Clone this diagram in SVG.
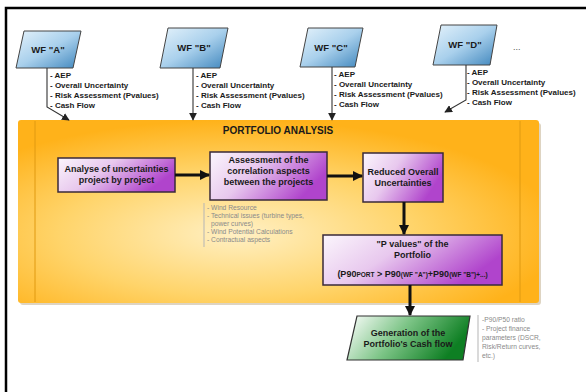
<svg xmlns="http://www.w3.org/2000/svg" width="586" height="392" viewBox="0 0 586 392">
<defs>
<radialGradient id="gOrange" cx="0.42" cy="0.62" r="0.62" fx="0.42" fy="0.62">
<stop offset="0" stop-color="#fff0c4"/>
<stop offset="0.55" stop-color="#ffd46a"/>
<stop offset="1" stop-color="#ffb21a"/>
</radialGradient>
<linearGradient id="gPurple" x1="0" y1="0" x2="1" y2="0.4">
<stop offset="0" stop-color="#fbf6fc"/>
<stop offset="0.45" stop-color="#e8c8ee"/>
<stop offset="1" stop-color="#b044cc"/>
</linearGradient>
<linearGradient id="gBlue" x1="0" y1="0" x2="1" y2="1">
<stop offset="0" stop-color="#e4f2fb"/>
<stop offset="0.5" stop-color="#a9d0ec"/>
<stop offset="1" stop-color="#3f86bd"/>
</linearGradient>
<linearGradient id="gGreen" x1="0" y1="0" x2="1" y2="0.3">
<stop offset="0" stop-color="#ffffff"/>
<stop offset="0.5" stop-color="#7cc486"/>
<stop offset="1" stop-color="#0e7f23"/>
</linearGradient>
<marker id="mThick" viewBox="0 0 10 10" refX="9" refY="5" markerWidth="3.4" markerHeight="3.4" orient="auto" markerUnits="strokeWidth">
<path d="M0,0 L10,5 L0,10 z" fill="#111"/>
</marker>
<marker id="mThin" viewBox="0 0 10 10" refX="9" refY="5" markerWidth="7" markerHeight="7" orient="auto" markerUnits="strokeWidth">
<path d="M0,0 L10,5 L0,10 z" fill="#222"/>
</marker>
</defs>
<style>
.wf{fill:url(#gBlue);stroke:#444;stroke-width:1}
.pb{fill:url(#gPurple);stroke:#3a2a3a;stroke-width:1.5}
.t{font-family:"Liberation Sans",Arial,sans-serif;font-weight:bold;fill:#1a1a1a}
.wft{font-size:9.5px;text-anchor:middle}
.lst{font-size:8px}
.bt{font-size:9px;text-anchor:middle}
.n{font-family:"Liberation Sans",Arial,sans-serif;font-size:6.7px;fill:#8a8a8a}
.thick{stroke:#111;stroke-width:3;fill:none}
.thin{stroke:#333;stroke-width:1.1;fill:none}
.gl{stroke:#b5b5b5;stroke-width:1}
</style>
<rect x="0" y="0" width="586" height="392" fill="#ffffff"/>
<path d="M6,392 L6,8 L586,8" fill="none" stroke="#000" stroke-width="2.5"/>

<g id="portfolio">
<rect x="20" y="123" width="521" height="182" rx="3" fill="#c8b89a" opacity="0.6"/>
<rect x="18" y="120" width="521" height="183" rx="3" fill="url(#gOrange)"/>
<line x1="35" y1="121" x2="35" y2="302" stroke="#e09a10" stroke-width="1"/>
<line x1="520" y1="121" x2="520" y2="302" stroke="#e09a10" stroke-width="1"/>
<text class="t" x="278" y="134" font-size="10" text-anchor="middle">PORTFOLIO ANALYSIS</text>
</g>

<g id="wfA">
<polygon class="wf" points="24,31 81,31 73,68 16,68"/>
<text class="t wft" x="48" y="53">WF "A"</text>
<text class="t lst" x="50" y="78">- AEP</text>
<text class="t lst" x="50" y="88">- Overall Uncertainty</text>
<text class="t lst" x="50" y="98">- Risk Assessment (Pvalues)</text>
<text class="t lst" x="50" y="108">- Cash Flow</text>
</g>
<g id="wfB">
<polygon class="wf" points="168,28 228,28 220,68 160,68"/>
<text class="t wft" x="194" y="51">WF "B"</text>
<text class="t lst" x="196" y="78">- AEP</text>
<text class="t lst" x="196" y="88">- Overall Uncertainty</text>
<text class="t lst" x="196" y="98">- Risk Assessment (Pvalues)</text>
<text class="t lst" x="196" y="108">- Cash Flow</text>
</g>
<g id="wfC">
<polygon class="wf" points="308,28 363,28 355,67 300,67"/>
<text class="t wft" x="331" y="51">WF "C"</text>
<text class="t lst" x="334" y="77">- AEP</text>
<text class="t lst" x="334" y="87">- Overall Uncertainty</text>
<text class="t lst" x="334" y="97">- Risk Assessment (Pvalues)</text>
<text class="t lst" x="334" y="107">- Cash Flow</text>
</g>
<g id="wfD">
<polygon class="wf" points="441,25 497,25 490,65 433,65"/>
<text class="t wft" x="465" y="48">WF "D"</text>
<text class="t lst" x="467" y="75">- AEP</text>
<text class="t lst" x="467" y="85">- Overall Uncertainty</text>
<text class="t lst" x="467" y="95">- Risk Assessment (Pvalues)</text>
<text class="t lst" x="467" y="105">- Cash Flow</text>
<text x="513" y="50" font-family="Liberation Sans,Arial,sans-serif" font-size="9" fill="#555">...</text>
</g>

<g id="box1">
<rect class="pb" x="58" y="158" width="117" height="34"/>
<text class="t bt" x="116.5" y="172">Analyse of uncertainties</text>
<text class="t bt" x="116.5" y="183">project by project</text>
</g>
<g id="box2">
<rect class="pb" x="210" y="152" width="117" height="48"/>
<text class="t bt" x="268.5" y="163">Assessment of the</text>
<text class="t bt" x="268.5" y="174">correlation aspects</text>
<text class="t bt" x="268.5" y="185">between the projects</text>
<line class="gl" x1="204" y1="203" x2="204" y2="247"/>
<text class="n" x="207" y="210">- Wind Resource</text>
<text class="n" x="207" y="218">- Technical issues (turbine types,</text>
<text class="n" x="211" y="226">power curves)</text>
<text class="n" x="207" y="234">- Wind Potential Calculations</text>
<text class="n" x="207" y="242">- Contractual aspects</text>
</g>
<g id="box3">
<rect class="pb" x="363" y="153" width="80" height="49"/>
<text class="t bt" x="403" y="175">Reduced Overall</text>
<text class="t bt" x="403" y="186">Uncertainties</text>
</g>
<g id="box4">
<rect class="pb" x="323" y="235" width="179" height="50"/>
<text class="t bt" x="412.5" y="247">"P values" of the</text>
<text class="t bt" x="412.5" y="258">Portfolio</text>
<text class="t" x="412.5" y="277" font-size="9" text-anchor="middle">(P90<tspan font-size="6.5">PORT</tspan> &gt; P90<tspan font-size="6.5">(WF "A")</tspan>+P90<tspan font-size="6.5">(WF "B")+...)</tspan></text>
</g>
<g id="cashflow">
<polygon points="357,316 470,316 463,360 347,360" fill="url(#gGreen)" stroke="#333" stroke-width="1.2"/>
<text class="t bt" x="408" y="336">Generation of the</text>
<text class="t bt" x="408" y="347">Portfolio's Cash flow</text>
<line class="gl" x1="478" y1="315" x2="478" y2="362"/>
<text class="n" x="482" y="322" font-size="7">-P90/P50 ratio</text>
<text class="n" x="482" y="331" font-size="7">- Project finance</text>
<text class="n" x="482" y="340" font-size="7">parameters (DSCR,</text>
<text class="n" x="482" y="349" font-size="7">Risk/Return curves,</text>
<text class="n" x="482" y="358" font-size="7">etc.)</text>
</g>

<g id="connectors">
<path class="thin" d="M47,68 L47,107 L69,120" marker-end="url(#mThin)"/>
<path class="thin" d="M193,68 L193,120" marker-end="url(#mThin)"/>
<path class="thin" d="M332,67 L332,120" marker-end="url(#mThin)"/>
<path class="thin" d="M466,65 L466,100 L445,112" marker-end="url(#mThin)"/>
<path class="thick" d="M175,175 L209,175" marker-end="url(#mThick)"/>
<path class="thick" d="M327,176 L362,176" marker-end="url(#mThick)"/>
<path class="thick" d="M404,202 L404,234" marker-end="url(#mThick)"/>
<path class="thick" d="M410,285 L410,315" marker-end="url(#mThick)"/>
</g>
</svg>
